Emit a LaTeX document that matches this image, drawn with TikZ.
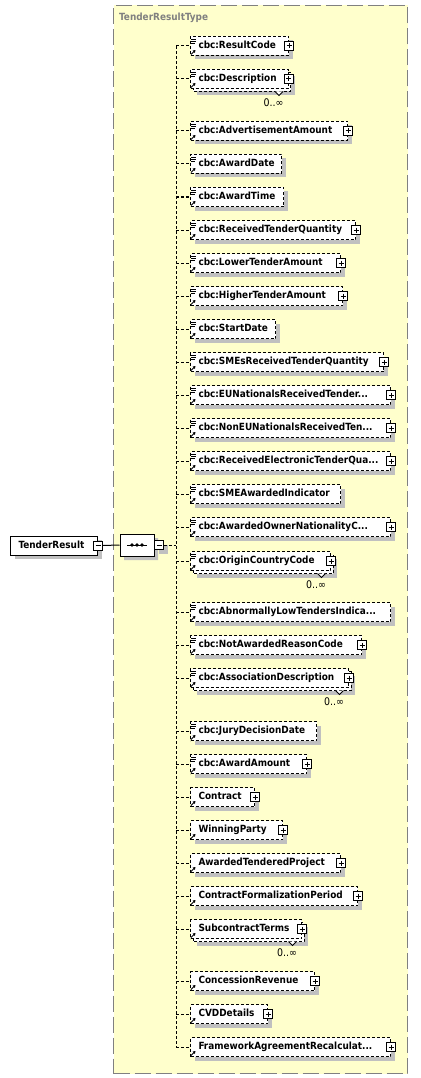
\documentclass[tikz,border=0pt]{standalone}
\usepackage{fontspec}
\setmainfont{DejaVu Sans}
\newfontfamily\elfont{DejaVu Sans Condensed Bold}
\newfontfamily\mulfont{DejaVu Sans Condensed}
\usetikzlibrary{shapes.misc,arrows.meta,shadows,calc}
\definecolor{areafill}{RGB}{255,255,204}
\definecolor{shadowc}{RGB}{192,192,192}
\definecolor{typegray}{RGB}{128,128,128}
\tikzset{
 ebox/.style={draw=black, line width=1pt, dash pattern=on 3pt off 2pt, fill=white, minimum height=19pt, inner ysep=0pt, inner xsep=8pt, anchor=west, align=left, text height=7pt, text depth=2pt, font=\elfont\fontsize{9.9}{11}\selectfont},
 eshad/.style={drop shadow={shadow xshift=4pt, shadow yshift=-4pt, opacity=1, fill=shadowc}},
 conn/.style={draw=black, line width=1pt, dash pattern=on 3pt off 2pt},
 pbox/.style={draw=black, line width=1pt, solid, fill=white},
 mult/.style={font=\mulfont\fontsize{10.5}{11}\selectfont, inner sep=0pt},
}
\newcommand\xelem[7]{%
 \pgfmathsetmacro\elw{#3-190}%
 \pgfmathsetmacro\eltw{#3-206}%
 \ifnum#7=1\relax
   \fill[shadowc] (197,#2-2.5) rectangle (#3+7,#2+16.5);
   \draw[conn, fill=white] (193,#2-6.5) rectangle (#3+3,#2+12.5);
   \draw[line width=1pt, solid, fill=white] (#3-12.5,#2+12.5) -- (#3-8.5,#2+16.5) -- (#3-4.5,#2+12.5);
   \node[mult] (#1m) at (#3-14,#2+23.5) {0..∞};
   \node[ebox, minimum width=\elw pt, text width=\eltw pt] (#1) at (190,#2) {#4};
 \else
   \node[ebox, eshad, minimum width=\elw pt, text width=\eltw pt] (#1) at (190,#2) {#4};
 \fi
 \ifnum#5=1\relax
   \draw[pbox] (#1.east) ++(-4.5,-4.5) rectangle ++(9,9);
   \draw[line width=1pt] (#1.east) ++(-2.5,0) -- ++(5,0);
   \draw[line width=1pt] (#1.east) ++(0,-2.5) -- ++(0,5);
 \fi
 \ifnum#6=1\relax
   \draw[line width=.8pt] (191,#2-6.5) -- ++(5,0) (191,#2-4.5) -- ++(5,0) (191,#2-2.5) -- ++(4,0);
 \fi
 \draw[line width=.8pt, -{Triangle[length=2.5pt,width=3pt]}] (191,#2+8.5) -- (195.5,#2+4);
 \draw[conn] (#1.west -| vtop) -- (#1.west);
}
\begin{document}
\begin{tikzpicture}[x=1pt,y=-1pt]
\useasboundingbox (0,0) rectangle (420,1078);
\fill[white] (0,0) rectangle (420,1078);
\node[draw=typegray, line width=1pt, dash pattern=on 16pt off 5pt, fill=areafill, minimum width=294pt, minimum height=1068pt, anchor=north west, inner sep=0pt] (area) at (113,5) {};
\node[anchor=west, inner sep=0pt, text=typegray, font=\elfont\fontsize{9.9}{11}\selectfont] (tlabel) at (119,17.5) {TenderResultType};
\coordinate (vtop) at (176,46);
\coordinate (vbot) at (176,1047);
\draw[conn] (vtop) -- (vbot);
% root element
\node[draw=black, line width=1pt, fill=white, eshad, minimum width=87pt, minimum height=19pt, text width=71pt, inner xsep=8pt, inner ysep=0pt, anchor=west, align=left, text height=7pt, text depth=2pt, font=\elfont\fontsize{9.9}{11}\selectfont] (root) at (10,545.5) {TenderResult};
% sequence compositor
\node[chamfered rectangle, chamfered rectangle xsep=6pt, draw=black, line width=1pt, fill=white, eshad, minimum width=34pt, minimum height=22pt, inner sep=0pt] (seq) at (137,545) {};
\draw[line width=1pt] ($(seq.center)+(-10,0)$) -- ($(seq.center)+(10,0)$);
\foreach \dx in {-5,0,5} \fill ($(seq.center)+(\dx,0)$) circle (1.9pt);
\draw[line width=1pt] ($(root.east)+(4.5,0)$) -- (seq.west);
\draw[pbox] (root.east) ++(-4.5,-4.5) rectangle ++(9,9);
\draw[line width=1pt] (root.east) ++(-2.5,0) -- ++(5,0);
\draw[pbox, eshad] (seq.east) ++(0,-4.5) rectangle ++(9,9);
\draw[line width=1pt] (seq.east) ++(2,0) -- ++(5,0);
\draw[conn] ($(seq.east)+(9,0)$) -- (seq.east -| vtop);
% elements
\xelem{e1}{46}{288}{cbc:ResultCode}{1}{1}{0}
\xelem{e2}{79}{287.5}{cbc:Description}{1}{1}{1}
\xelem{e3}{131}{347}{cbc:AdvertisementAmount}{1}{1}{0}
\xelem{e4}{164}{281}{cbc:AwardDate}{0}{1}{0}
\xelem{e5}{197}{283}{cbc:AwardTime}{0}{1}{0}
\xelem{e6}{230}{355}{cbc:ReceivedTenderQuantity}{1}{1}{0}
\xelem{e7}{263}{340}{cbc:LowerTenderAmount}{1}{1}{0}
\xelem{e8}{296}{342}{cbc:HigherTenderAmount}{1}{1}{0}
\xelem{e9}{329}{275}{cbc:StartDate}{0}{1}{0}
\xelem{e10}{362}{383}{cbc:SMEsReceivedTenderQuantity}{1}{1}{0}
\xelem{e11}{395}{390}{cbc:EUNationalsReceivedTender...}{1}{1}{0}
\xelem{e12}{428}{390}{cbc:NonEUNationalsReceivedTen...}{1}{1}{0}
\xelem{e13}{461}{390}{cbc:ReceivedElectronicTenderQua...}{1}{1}{0}
\xelem{e14}{494}{340}{cbc:SMEAwardedIndicator}{0}{1}{0}
\xelem{e15}{527}{390}{cbc:AwardedOwnerNationalityC...}{1}{1}{0}
\xelem{e16}{561}{330}{cbc:OriginCountryCode}{1}{1}{1}
\xelem{e17}{612}{390}{cbc:AbnormallyLowTendersIndica...}{0}{1}{0}
\xelem{e18}{645}{361}{cbc:NotAwardedReasonCode}{1}{1}{0}
\xelem{e19}{678}{348}{cbc:AssociationDescription}{1}{1}{1}
\xelem{e20}{731}{316}{cbc:JuryDecisionDate}{0}{1}{0}
\xelem{e21}{764}{306}{cbc:AwardAmount}{1}{1}{0}
\xelem{e22}{797}{254}{Contract}{1}{0}{0}
\xelem{e23}{830}{282}{WinningParty}{1}{0}{0}
\xelem{e24}{863}{340}{AwardedTenderedProject}{1}{0}{0}
\xelem{e25}{896}{357}{ContractFormalizationPeriod}{1}{0}{0}
\xelem{e26}{929}{301}{SubcontractTerms}{1}{0}{1}
\xelem{e27}{981}{314}{ConcessionRevenue}{1}{0}{0}
\xelem{e28}{1014}{267}{CVDDetails}{1}{0}{0}
\xelem{e29}{1047}{390}{FrameworkAgreementRecalculat...}{1}{0}{0}
\end{tikzpicture}
\end{document}
